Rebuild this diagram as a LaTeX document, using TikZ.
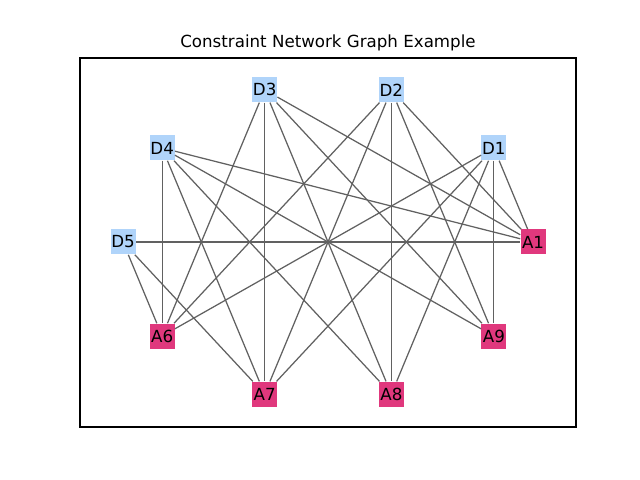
\documentclass[tikz,border=0pt]{standalone}
\usepackage{fontspec}
\setmainfont{DejaVu Sans}
\definecolor{domcol}{HTML}{B0D4FA}
\definecolor{agtcol}{HTML}{E0387D}

\begin{document}
\begin{tikzpicture}[x=0.72pt, y=0.72pt,
		dom/.style={fill=domcol, minimum size=18pt, inner sep=0pt, font=\fontsize{12}{14}\selectfont},
		agt/.style={fill=agtcol, minimum size=18pt, inner sep=0pt, font=\fontsize{12}{14}\selectfont},
		edge/.style={draw=black!62, line width=.9pt}]
		\useasboundingbox (0, 0) rectangle (640, 480);
		\draw[line width=.8pt] (80, 53) rectangle (576, 422);
		\node[font=\fontsize{12}{14}\selectfont] (title) at (328, 437) {Constraint Network Graph Example};

		\begin{scope}[shift={(328, 238)}]
		\node[agt] (a1) at (0:205 and 160) {A1};
		\node[dom] (d1) at (36:205 and 160) {D1};
		\node[dom] (d2) at (72:205 and 160) {D2};
		\node[dom] (d3) at (108:205 and 160) {D3};
		\node[dom] (d4) at (144:205 and 160) {D4};
		\node[dom] (d5) at (180:205 and 160) {D5};
		\node[agt] (a6) at (216:205 and 160) {A6};
		\node[agt] (a7) at (252:205 and 160) {A7};
		\node[agt] (a8) at (288:205 and 160) {A8};
		\node[agt] (a9) at (324:205 and 160) {A9};
		\end{scope}

		\foreach \d in {d1, d2, d3, d4}
		\foreach \a in {a1, a6, a7, a8, a9}
		\draw[edge] (\d) -- (\a);

		\foreach \a in {a1, a6, a7}
		\draw[edge] (d5) -- (\a);

	\end{tikzpicture}
\end{document}
